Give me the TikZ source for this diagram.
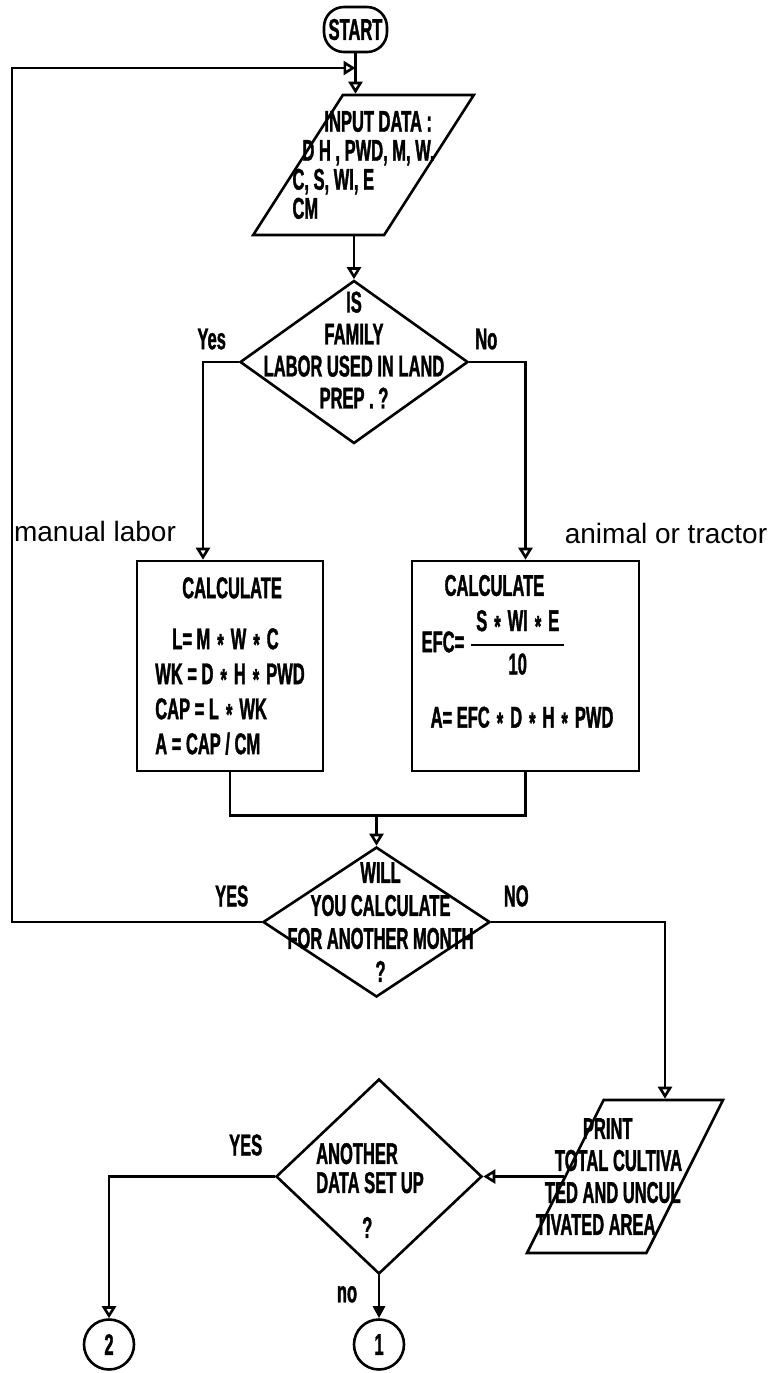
\documentclass[tikz,border=0pt]{standalone}
\usepackage{amsmath}
\usepackage{fontspec}
\newfontfamily\plotfont[FakeStretch=0.55,BoldFeatures={FakeBold=1.2}]{Liberation Sans}
\newfontfamily\handfont{Liberation Sans}
\newcommand\ps{\hspace{3.5pt}\raisebox{-0.35ex}{*}\hspace{3.5pt}}
\usepackage{tikz}
\usetikzlibrary{shapes.geometric, positioning, arrows.meta, calc}

\begin{document}
\begin{tikzpicture}[x=0.5pt,y=-0.5pt,on grid,line width=1.3pt,
    font=\plotfont\bfseries\fontsize{15}{17.5}\selectfont,
    term/.style={draw,rounded corners=10pt,minimum width=31.5pt,minimum height=22.5pt,inner sep=0pt},
    io/.style={draw,trapezium,trapezium stretches=true,inner sep=2pt},
    decision/.style={draw,diamond,inner sep=0pt},
    process/.style={draw,rectangle,minimum height=105pt,align=left,inner sep=0pt},
    con/.style={draw,circle,minimum size=25pt,inner sep=0pt},
    flow/.style={-{Triangle[open,length=6pt,width=7pt]}},
    flowfill/.style={-{Triangle[length=6pt,width=6pt]}},
    lab/.style={inner sep=0pt},
    hand/.style={inner sep=0pt,font=\handfont\fontsize{14}{16}\selectfont}]
  \useasboundingbox (0,0) rectangle (783,1373);

  \node[term] (start) at (355.5,29.5) {START};
  \node[io,trapezium left angle=68,trapezium right angle=112,
        minimum width=110.5pt,minimum height=70pt] (input) [below right=67.75pt and 4pt of start] {\strut};
  \node[decision,minimum width=114pt,minimum height=81.5pt] (q1) [below left=98.5pt and 4.75pt of input] {};
  \node[process,minimum width=93pt] (calcL) [below left=152pt and 62pt of q1]
    {\hspace*{13.5pt}CALCULATE\\[8pt]
     \hspace*{8.5pt}L= M\ps W\ps C\\
     WK = D\ps H\ps PWD\\
     CAP = L\ps WK\\
     A = CAP / CM};
  \node[process,minimum width=113.5pt] (calcR) [right=147.75pt of calcL] {};
  \node[decision,minimum width=113.5pt,minimum height=75pt] (q2) [below right=280pt and 11.25pt of q1] {};
  \node[io,trapezium left angle=71.6,trapezium right angle=108.4,
        minimum width=98pt,minimum height=76.5pt] (print) [below right=127.25pt and 124.25pt of q2] {\strut};
  \node[decision,minimum width=103pt,minimum height=97.5pt] (q3) [left=123pt of print] {};
  \node[con] (con1) [below=84pt of q3] {1};
  \node[con] (con2) [left=135pt of con1] {2};

  % texts inside the shapes
  \node[lab,align=left,font=\plotfont\bfseries\fontsize{15}{14.5}\selectfont] (inputtxt) at (input)
    {\hspace*{16pt}INPUT DATA :\\
     \hspace*{5pt}D H , PWD, M, W.\\
     C, S, WI, E\\
     CM};
  \node[lab,align=left] (calcRtxt) [above left=6pt and 4pt of calcR]
    {\hspace*{11.5pt}CALCULATE\\[6pt]
     EFC= $\genfrac{}{}{1.2pt}{0}{\text{\,S\ps WI\ps E\,}}{\text{10}}$\\[15pt]
     \hspace*{4.5pt}A=\ EFC\ps D\ps H\ps PWD};
  \node[lab,align=center,font=\plotfont\bfseries\fontsize{15}{16}\selectfont] (q1txt) [above=6pt of q1]
    {IS\\FAMILY\\LABOR USED IN LAND\\PREP . ?};
  \node[lab,align=center,font=\plotfont\bfseries\fontsize{15}{16.5}\selectfont] (q2txt) [right=2pt of q2]
    {WILL\\YOU CALCULATE\\FOR ANOTHER MONTH\\?};
  \node[lab,align=left,font=\plotfont\bfseries\fontsize{15}{16}\selectfont] (printtxt) [left=8pt of print]
    {\hspace*{23.5pt}PRINT\\
     \hspace*{9.5pt}TOTAL CULTIVA\\
     \hspace*{4.5pt}TED AND UNCUL\\
     TIVATED AREA};
  \node[lab,align=left,font=\plotfont\bfseries\fontsize{15}{14.5}\selectfont] (q3txt) [below left=7pt and 4.5pt of q3]
    {ANOTHER\\DATA SET UP\\[8pt]\hspace*{23pt}?};

  % branch labels
  \node[lab] (yes1) [above left=11.5pt and 13.5pt of q1.west,anchor=center] {Yes};
  \node[lab] (no1) [above right=11.5pt and 8.5pt of q1.east,anchor=center] {No};
  \node[hand] (manual) [above left=14pt and 67.5pt of calcL.north,anchor=center] {manual labor};
  \node[hand] (animal) [above right=13pt and 70.25pt of calcR.north,anchor=center] {animal or tractor};
  \node[lab] (yes2) [above left=13pt and 15pt of q2.west,anchor=center] {YES};
  \node[lab] (no2) [above right=13pt and 12.5pt of q2.east,anchor=center] {NO};
  \node[lab] (yes3) [above left=15.75pt and 14.5pt of q3.west,anchor=center] {YES};
  \node[lab] (no3) [below left=9.5pt and 16pt of q3.south,anchor=center] {no};

  \coordinate (back) at (12,68);
  \coordinate (join) at ($(calcL.south -| q2.north)+(0,43)$);

  \draw[flow] (start) -- (start |- input.north);
  \draw[flow] (q2.west) -| (back) -- (back -| start);
  \draw[flow] (q1.north |- input.south) -- (q1.north);
  \draw[flow] (q1.west) -| ([xshift=-13.5pt]calcL.north);
  \draw[flow] (q1.east) -| (calcR.north);
  \draw (calcL.south) |- (join) -| (calcR.south);
  \draw[flow] (join) -- (q2.north);
  \draw[flow] (q2.east) -| ([xshift=20pt]print.north);
  \draw[flow] (print.west) -- (q3.east);
  \draw[flow] (q3.west) -| (con2.north);
  \draw[flowfill] (q3.south) -- (con1.north);
\end{tikzpicture}
\end{document}
